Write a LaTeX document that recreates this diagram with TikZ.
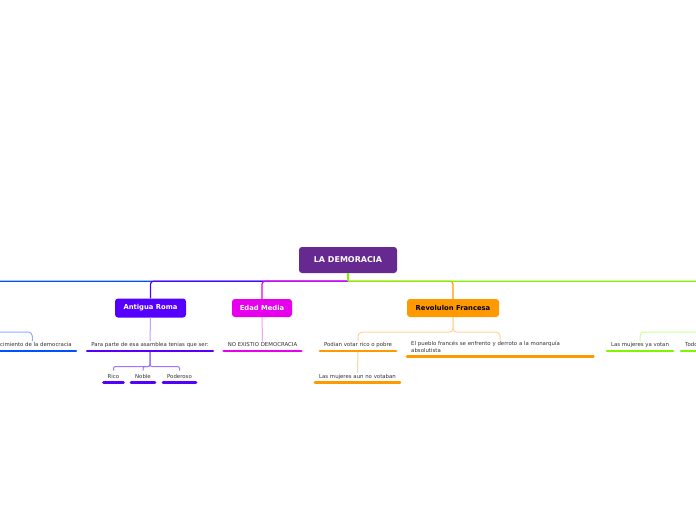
\documentclass[tikz,border=0pt]{standalone}
\usepackage{fontspec}
\setmainfont{DejaVu Sans}
\definecolor{rootc}{HTML}{66298F}
\definecolor{romec}{HTML}{5500FF}
\definecolor{edadc}{HTML}{E600EE}
\definecolor{revoc}{HTML}{FF9900}
\definecolor{bluec}{HTML}{0050FF}
\definecolor{greenc}{HTML}{7FF500}
\definecolor{lblue}{HTML}{8CB0FF}
\definecolor{lviolet}{HTML}{BBA0FF}
\definecolor{violet2}{HTML}{9B77FF}
\definecolor{lmag}{HTML}{F49CF8}
\definecolor{lorange}{HTML}{FFD49A}
\definecolor{lgreen}{HTML}{C8FF99}
\definecolor{txt}{HTML}{333333}
\begin{document}
\begin{tikzpicture}[x=1pt,y=-1pt,
  topic/.style={rounded corners=3pt, font=\bfseries\fontsize{6.8}{8}\selectfont, text=white, inner sep=0pt},
  sub/.style={font=\fontsize{5.4}{6.5}\selectfont, text=txt, inner xsep=4pt, inner ysep=1pt, anchor=base},
  ul/.style={line width=2.6pt, line cap=round},
  mconn/.style={line width=1.2pt, rounded corners=3pt},
  sconn/.style={line width=1pt, rounded corners=4pt}]
\clip (0,0) rectangle (696,520);
\fill[white] (0,0) rectangle (696,520);

% topics
\node[topic, fill=rootc, minimum width=98pt, minimum height=26pt, font=\bfseries\fontsize{8}{10}\selectfont] (root) at (348,260) {LA DEMORACIA};
\node[topic, fill=romec, minimum width=71pt, minimum height=19pt] (rome) at (150.5,308) {Antigua Roma};
\node[topic, fill=edadc, minimum width=60pt, minimum height=18pt] (edad) at (262,308) {Edad Media};
\node[topic, fill=revoc, text=black, minimum width=92pt, minimum height=18pt] (revo) at (453,308) {Revolulon Francesa};
\coordinate (j) at ([yshift=-8pt]root.south);
\coordinate (bt) at (-40,299);
\coordinate (btb) at (-40,317);
\coordinate (gt) at (760,299);
\coordinate (gtb) at (760,317);

% subtopics
\node[sub, anchor=base east] (bl) at (76,346.5) {Nacimiento de la democracia};
\node[sub] (p1) at (150,346.5) {Para parte de esa asamblea tenias que ser:};
\node[sub] (rico) at (113.5,378) {Rico};
\node[sub] (noble) at (143,378) {Noble};
\node[sub] (pod) at (179.5,378) {Poderoso};
\node[sub] (ne) at (262.5,346.5) {NO EXISTIO DEMOCRACIA};
\node[sub] (pv) at (358,346.5) {Podian votar rico o pobre};
\node[sub] (mu) at (357.5,378) {Las mujeres aun no votaban};
\node[sub, anchor=north west, align=left, text width=178pt] (fr) at (407,340) {El pueblo francés se enfrento y derroto a la monarquía\\absolutista};
\node[sub] (gl) at (640,346.5) {Las mujeres ya votan};
\node[sub, anchor=base west] (tod) at (681,346.5) {Todos pueden votar};

% main connectors
\draw[mconn, bluec] (j) -| (bt);
\draw[mconn, romec] (j) -| (rome.north);
\draw[mconn, edadc] (j) -| (edad.north);
\draw[mconn, revoc] (j) -| (revo.north);
\draw[mconn, greenc] (j) -| (gt);
\draw[line width=1.2pt, greenc] (root.south) -- (j);

% sub connectors
\draw[sconn, lblue] (btb) -- ++(0,15) -| (bl.north);
\draw[sconn, lviolet] (rome.south) -- (p1.north);
\draw[sconn, lmag] (edad.south) -- (ne.north);
\draw[sconn, lorange] (revo.south) -- ++(0,15) -| (pv.north);
\draw[sconn, lorange] (revo.south) -- ++(0,15) -| (fr.north);
\draw[sconn, lorange] ([yshift=-4.5pt]pv.base) -- (mu.north);
\draw[sconn, lgreen] (gtb) -- ++(0,15) -| (gl.north);
\draw[sconn, lgreen] (gtb) -- ++(0,15) -| (tod.north);
\draw[sconn, violet2, rounded corners=2pt] ([yshift=-4.5pt]p1.base) -- ++(0,15.5) -| ([yshift=2pt]rico.north);
\draw[sconn, violet2, rounded corners=2pt] ([yshift=-4.5pt]p1.base) -- ++(0,15.5) -| ([yshift=2pt]noble.north);
\draw[sconn, violet2, rounded corners=2pt] ([yshift=-4.5pt]p1.base) -- ++(0,15.5) -| ([yshift=2pt]pod.north);

% underlines
\foreach \n/\c in {bl/bluec, p1/romec, rico/romec, noble/romec, pod/romec, ne/edadc, pv/revoc, mu/revoc, gl/greenc, tod/greenc}
  \draw[ul, \c] ([yshift=-4.5pt]\n.base west) -- ([yshift=-4.5pt]\n.base east);
\draw[ul, revoc] ([yshift=-3pt]fr.south west) -- ([yshift=-3pt]fr.south east);
\end{tikzpicture}
\end{document}
